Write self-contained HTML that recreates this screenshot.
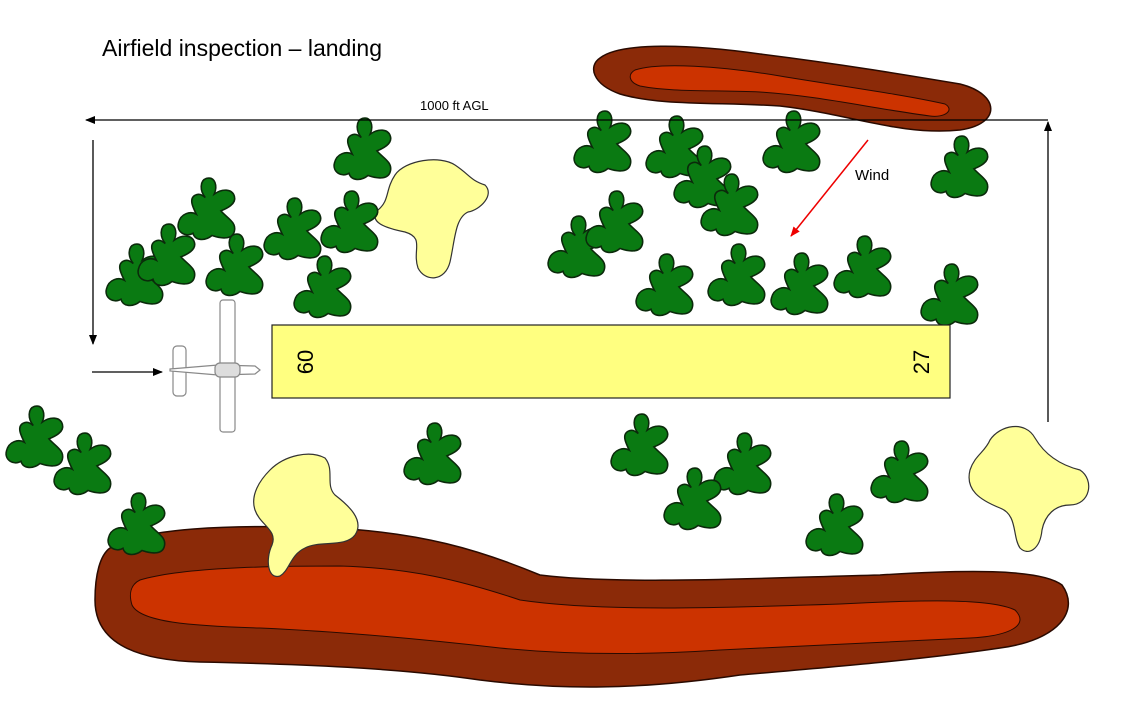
<!DOCTYPE html>
<html><head><meta charset="utf-8"><style>
html,body{margin:0;padding:0;background:#fff;}
svg{display:block;}
text{font-family:"Liberation Sans",Arial,sans-serif;}
</style></head><body>
<svg width="1133" height="720" viewBox="0 0 1133 720" xmlns="http://www.w3.org/2000/svg">
<defs>
<path id="t" transform="scale(1.12)" d="M -5,-30 C 3,-32 5,-23 2,-16 C 9,-21 18,-21 20,-14 C 22,-7 13,-3 8,-1 C 13,5 22,9 20,17 C 18,26 6,23 0,21 C -6,26 -15,26 -17,19 C -23,23 -32,18 -30,10 C -28,1 -19,-1 -14,2 C -17,-4 -21,-12 -15,-15 C -11,-17 -9,-15 -6,-13 C -11,-19 -11,-28 -5,-30 Z" fill="#0a7a12" stroke="#0b2a0b" stroke-width="1.4"/>
<marker id="ah" markerWidth="10" markerHeight="8" refX="9" refY="4" orient="auto" markerUnits="userSpaceOnUse"><path d="M0,0 L10,4 L0,8 Z" fill="#000"/></marker>
<marker id="ahr" markerWidth="10" markerHeight="8" refX="9" refY="4" orient="auto" markerUnits="userSpaceOnUse"><path d="M0,0 L10,4 L0,8 Z" fill="#e00"/></marker>
</defs>
<text x="102" y="56" font-size="23">Airfield inspection – landing</text>

<!-- top ridge -->
<path d="M600,58 C620,42 690,44 760,54 C840,64 900,74 960,84 C1000,94 1002,124 960,130 C900,136 850,114 780,106 C720,102 660,106 620,94 C592,84 588,66 600,58 Z" fill="#8b2a08" stroke="#2a0a00" stroke-width="1.5"/>
<path d="M635,70 C660,62 720,66 780,76 C840,86 900,94 945,104 C955,110 945,118 930,116 C870,108 820,96 760,92 C710,90 670,92 640,86 C628,82 628,74 635,70 Z" fill="#cc3300" stroke="#2a0a00" stroke-width="1"/>

<!-- bottom ridge -->
<path d="M110,548 C140,528 230,524 330,528 C420,532 480,550 540,575 C620,585 760,578 880,575 C960,570 1040,568 1062,585 C1080,610 1060,640 1000,648 C920,660 820,668 740,675 C640,690 560,690 480,680 C400,668 300,664 200,662 C130,660 95,640 95,600 C95,575 100,555 110,548 Z" fill="#8b2a08" stroke="#2a0a00" stroke-width="1.5"/>
<path d="M140,580 C180,568 260,566 340,566 C410,568 460,580 520,600 C600,612 720,608 840,604 C920,600 990,598 1015,610 C1030,625 1010,636 970,638 C890,642 800,646 720,650 C630,656 560,654 500,648 C430,640 350,632 260,628 C190,626 140,622 132,605 C128,592 132,584 140,580 Z" fill="#cc3300" stroke="#2a0a00" stroke-width="1"/>

<!-- yellow blobs -->
<path d="M395,175 C405,160 440,155 455,165 C470,175 470,180 485,185 C495,195 480,210 468,212 C455,218 455,240 450,262 C445,282 425,282 418,268 C412,250 425,238 405,232 C385,228 368,222 378,210 C390,200 385,190 395,175 Z" fill="#ffff99" stroke="#333" stroke-width="1.2"/>
<path d="M270,470 C285,455 310,450 325,458 C335,470 325,485 335,495 C348,505 365,520 355,535 C345,548 320,540 305,548 C290,555 290,570 280,576 C268,580 265,560 272,545 C278,530 260,525 255,510 C250,495 260,480 270,470 Z" fill="#ffff99" stroke="#333" stroke-width="1.2"/>
<path d="M990,440 C1000,425 1025,420 1035,438 C1045,455 1060,465 1080,470 C1095,480 1090,505 1070,505 C1055,505 1045,515 1042,530 C1040,550 1028,556 1020,548 C1012,536 1018,515 1000,508 C980,500 965,490 970,470 C975,455 985,452 990,440 Z" fill="#ffff99" stroke="#333" stroke-width="1.2"/>

<!-- trees -->
<use href="#t" x="368" y="152"/><use href="#t" x="212" y="212"/><use href="#t" x="140" y="278"/><use href="#t" x="172" y="258"/>
<use href="#t" x="240" y="268"/><use href="#t" x="298" y="232"/><use href="#t" x="355" y="225"/><use href="#t" x="328" y="290"/>
<use href="#t" x="40" y="440"/><use href="#t" x="88" y="467"/><use href="#t" x="142" y="527"/><use href="#t" x="438" y="457"/>
<use href="#t" x="608" y="145"/><use href="#t" x="680" y="150"/><use href="#t" x="708" y="180"/><use href="#t" x="735" y="208"/>
<use href="#t" x="797" y="145"/><use href="#t" x="965" y="170"/><use href="#t" x="582" y="250"/><use href="#t" x="620" y="225"/>
<use href="#t" x="670" y="288"/><use href="#t" x="742" y="278"/><use href="#t" x="805" y="287"/><use href="#t" x="868" y="270"/>
<use href="#t" x="955" y="298"/><use href="#t" x="645" y="448"/><use href="#t" x="748" y="467"/><use href="#t" x="698" y="502"/>
<use href="#t" x="905" y="475"/><use href="#t" x="840" y="528"/>

<!-- runway -->
<rect x="272" y="325" width="678" height="73" fill="#ffff80" stroke="#222" stroke-width="1.2"/>
<text font-size="22" transform="translate(313,362) rotate(-90)" text-anchor="middle">60</text>
<text font-size="22" transform="translate(929,362) rotate(-90)" text-anchor="middle">27</text>

<!-- plane -->
<g fill="#fff" stroke="#888" stroke-width="1.2">
<rect x="173" y="346" width="13" height="50" rx="4"/>
<path d="M170,369 L218,365 L255,366 L260,370 L255,374 L218,375 L170,371 Z"/>
<rect x="220" y="300" width="15" height="132" rx="3"/>
<rect x="215" y="363" width="25" height="14" rx="5" fill="#ddd"/>
</g>

<!-- arrows -->
<g stroke="#000" stroke-width="1.3" fill="none">
<line x1="1048" y1="120" x2="86" y2="120" marker-end="url(#ah)"/>
<line x1="93" y1="140" x2="93" y2="344" marker-end="url(#ah)"/>
<line x1="92" y1="372" x2="162" y2="372" marker-end="url(#ah)"/>
<line x1="1048" y1="422" x2="1048" y2="122" marker-end="url(#ah)"/>
</g>
<line x1="868" y1="140" x2="791" y2="236" stroke="#e00" stroke-width="1.5" marker-end="url(#ahr)"/>
<text x="420" y="110" font-size="13">1000 ft AGL</text>
<text x="855" y="180" font-size="15">Wind</text>
</svg>
</body></html>
